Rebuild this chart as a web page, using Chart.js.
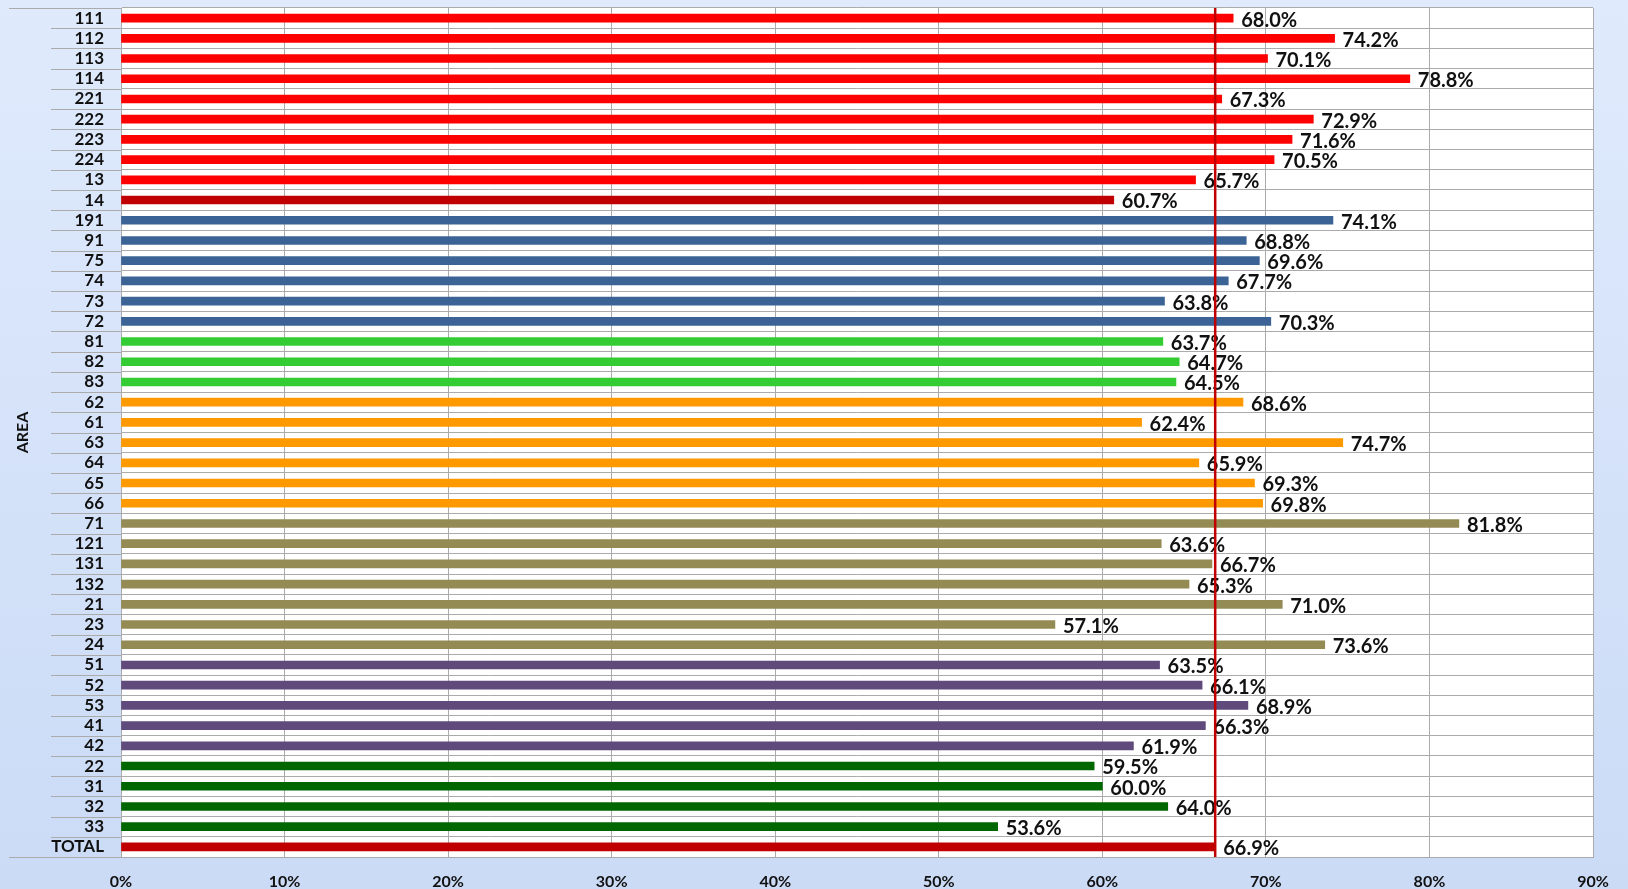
<!DOCTYPE html>
<html lang="en">
<head>
    <meta charset="UTF-8">
    <title>AREA</title>
    <style>
        html, body { margin: 0; padding: 0; }
        body {
            width: 1628px;
            height: 889px;
            overflow: hidden;
            background: linear-gradient(to bottom, #dfeafc, #cbdbf6);
        }
        .chart-box { position: relative; width: 1628px; height: 889px; }
    </style>
</head>
<body>
    <div class="chart-box">
        <canvas id="areaChart"></canvas>
    </div>
    <script src="https://cdn.jsdelivr.net/npm/chart.js"></script>
    <script>
        const areas = ['111', '112', '113', '114', '221', '222', '223', '224', '13', '14',
            '191', '91', '75', '74', '73', '72', '81', '82', '83',
            '62', '61', '63', '64', '65', '66',
            '71', '121', '131', '132', '21', '23', '24',
            '51', '52', '53', '41', '42',
            '22', '31', '32', '33', 'TOTAL'];
        const values = [68.0, 74.2, 70.1, 78.8, 67.3, 72.9, 71.6, 70.5, 65.7, 60.7,
            74.1, 68.8, 69.6, 67.7, 63.8, 70.3, 63.7, 64.7, 64.5,
            68.6, 62.4, 74.7, 65.9, 69.3, 69.8,
            81.8, 63.6, 66.7, 65.3, 71.0, 57.1, 73.6,
            63.5, 66.1, 68.9, 66.3, 61.9,
            59.5, 60.0, 64.0, 53.6, 66.9];
        const groups = ['A', 'A', 'A', 'A', 'A', 'A', 'A', 'A', 'A', 'B',
            'C', 'C', 'C', 'C', 'C', 'C', 'D', 'D', 'D',
            'E', 'E', 'E', 'E', 'E', 'E',
            'F', 'F', 'F', 'F', 'F', 'F', 'F',
            'G', 'G', 'G', 'G', 'G',
            'H', 'H', 'H', 'H', 'T'];
        const xTicks = [0, 10, 20, 30, 40, 50, 60, 70, 80, 90];
        const totalValue = values[areas.indexOf('TOTAL')];

        const groupColors = {
            A: '#ff0000', B: '#c00000', C: '#3c6396', D: '#33cc33', E: '#ff9900',
            F: '#948a54', G: '#604a7b', H: '#006600', T: '#c00000'
        };
        const gridGray = '#ababab';
        const labelFont = 'Lato, "DejaVu Sans", sans-serif';

        // row separators reaching into the label column, value labels, red total line
        const extras = {
            id: 'extras',
            beforeDatasetsDraw(chart) {
                const ctx = chart.ctx;
                const area = chart.chartArea;
                const n = areas.length;
                const step = (area.bottom - area.top) / n;
                ctx.save();
                ctx.strokeStyle = gridGray;
                ctx.lineWidth = 1;
                for (let i = 0; i <= n; i++) {
                    const py = Math.round(area.top + i * step) + 0.5;
                    const startX = (i === 0 || i === n) ? 9 : 51;
                    ctx.beginPath();
                    ctx.moveTo(startX, py);
                    ctx.lineTo(area.left, py);
                    ctx.stroke();
                }
                ctx.restore();
            },
            afterDatasetsDraw(chart) {
                const ctx = chart.ctx;
                const meta = chart.getDatasetMeta(0);
                const area = chart.chartArea;
                ctx.save();
                ctx.font = 'bold 20px ' + labelFont;
                ctx.fillStyle = '#111111';
                ctx.textAlign = 'left';
                ctx.textBaseline = 'middle';
                meta.data.forEach((bar, i) => {
                    ctx.fillText(values[i].toFixed(1) + '%', bar.x + 8, bar.y + 2);
                });
                const lx = chart.scales.x.getPixelForValue(totalValue);
                ctx.strokeStyle = '#c00000';
                ctx.lineWidth = 2.5;
                ctx.beginPath();
                ctx.moveTo(lx, area.top);
                ctx.lineTo(lx, area.bottom);
                ctx.stroke();
                ctx.restore();
            }
        };

        const ctx = document.getElementById('areaChart').getContext('2d');
        const areaChart = new Chart(ctx, {
            type: 'bar',
            data: {
                labels: areas,
                datasets: [{
                    data: values,
                    backgroundColor: groups.map(g => groupColors[g]),
                    barThickness: 8
                }]
            },
            options: {
                indexAxis: 'y',
                responsive: true,
                maintainAspectRatio: false,
                animation: false,
                layout: { padding: { top: 8, right: 35, bottom: 0, left: 0 } },
                plugins: {
                    legend: { display: false },
                    tooltip: { enabled: false }
                },
                scales: {
                    x: {
                        min: 0,
                        max: 90,
                        afterBuildTicks: scale => { scale.ticks = xTicks.map(v => ({ value: v })); },
                        afterFit: scale => {
                            scale.height = 32;
                            scale.paddingLeft = 0;
                            scale.paddingRight = 0;
                        },
                        grid: { color: gridGray, drawTicks: false },
                        border: { color: gridGray },
                        ticks: {
                            padding: 15,
                            color: '#111111',
                            font: { family: labelFont, size: 16, weight: 'bold' },
                            callback: v => v + '%'
                        }
                    },
                    y: {
                        afterFit: scale => {
                            scale.width = 121;
                            scale.paddingTop = 0;
                            scale.paddingBottom = 0;
                        },
                        grid: { color: gridGray, offset: true, drawTicks: false },
                        border: { color: gridGray },
                        ticks: {
                            padding: 17,
                            color: '#111111',
                            autoSkip: false,
                            font: { family: labelFont, size: 17, weight: 'bold' }
                        },
                        title: {
                            display: true,
                            text: 'AREA',
                            color: '#111111',
                            padding: { top: 13, bottom: 0 },
                            font: { family: labelFont, size: 16, weight: 'bold' }
                        }
                    }
                }
            },
            plugins: [extras, {
                id: 'plotBg',
                beforeDraw(chart) {
                    const a = chart.chartArea;
                    chart.ctx.save();
                    chart.ctx.fillStyle = '#ffffff';
                    chart.ctx.fillRect(a.left, a.top, a.right - a.left, a.bottom - a.top);
                    chart.ctx.restore();
                }
            }]
        });
    </script>
</body>
</html>
